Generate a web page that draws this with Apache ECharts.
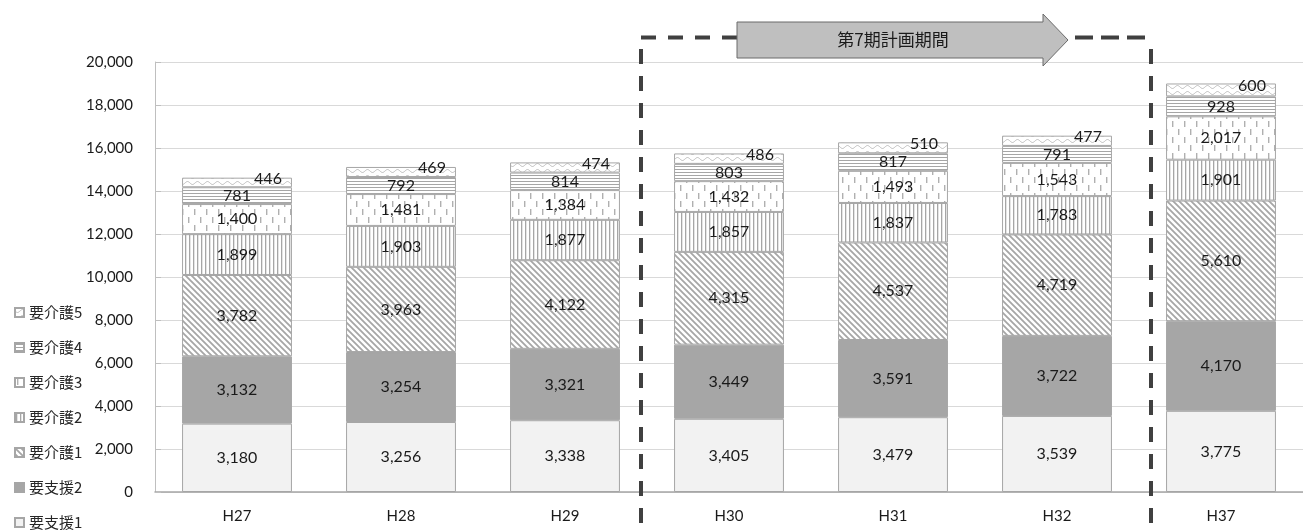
<!DOCTYPE html>
<html><head><meta charset="utf-8">
<script src="https://cdn.jsdelivr.net/npm/echarts@6/dist/echarts.min.js"></script>
<style>html,body{margin:0;padding:0;background:#fff}#c{width:1303px;height:532px}</style>
</head><body><div id="c"></div>
<script>
const categories = ['H27','H28','H29','H30','H31','H32','H37'];
const seriesNames = ['要支援1','要支援2','要介護1','要介護2','要介護3','要介護4','要介護5'];
const shien1 = [3180, 3256, 3338, 3405, 3479, 3539, 3775];
const shien2 = [3132, 3254, 3321, 3449, 3591, 3722, 4170];
const kaigo1 = [3782, 3963, 4122, 4315, 4537, 4719, 5610];
const kaigo2 = [1899, 1903, 1877, 1857, 1837, 1783, 1901];
const kaigo3 = [1400, 1481, 1384, 1432, 1493, 1543, 2017];
const kaigo4 = [781, 792, 814, 803, 817, 791, 928];
const kaigo5 = [446, 469, 474, 486, 510, 477, 600];
const yTicks = [0, 2000, 4000, 6000, 8000, 10000, 12000, 14000, 16000, 18000, 20000];
const periodLabel = '第7期計画期間';

function tile(w, h, draw) {
  const c = document.createElement('canvas'); c.width = w; c.height = h;
  const g = c.getContext('2d'); g.fillStyle = '#fff'; g.fillRect(0, 0, w, h);
  draw(g); return c;
}
const diag = tile(6, 6, g => {
  g.strokeStyle = '#a6a6a6'; g.lineWidth = 1.8;
  g.beginPath(); g.moveTo(-1, -1); g.lineTo(7, 7); g.moveTo(-4, 2); g.lineTo(4, 10); g.moveTo(2, -4); g.lineTo(10, 4); g.stroke();
});
const vert = tile(4, 4, g => { g.fillStyle = '#a6a6a6'; g.fillRect(1, 0, 1.3, 4); });
const dash = tile(12, 16, g => { g.fillStyle = '#b0b0b0'; g.fillRect(2, 1, 1.4, 6); g.fillRect(8, 9, 1.4, 6); });
const horiz = tile(4, 3, g => { g.fillStyle = '#a6a6a6'; g.fillRect(0, 1, 4, 1); });
const wave = tile(10, 6, g => {
  g.strokeStyle = '#bdbdbd'; g.lineWidth = 1;
  g.beginPath(); for (let x = 0; x <= 10; x += 0.5) { const y = 3 + 1.5 * Math.sin(x / 10 * 2 * Math.PI); if (x === 0) g.moveTo(x, y); else g.lineTo(x, y); } g.stroke();
});
const fills = ['#f2f2f2', '#a6a6a6', {image: diag, repeat: 'repeat'}, {image: vert, repeat: 'repeat'},
  {image: dash, repeat: 'repeat'}, {image: horiz, repeat: 'repeat'}, {image: wave, repeat: 'repeat'}];
const values = [shien1, shien2, kaigo1, kaigo2, kaigo3, kaigo4, kaigo5];

const numFont = 'Lato, "Noto Sans CJK JP", sans-serif';
const fmt = v => Number(v).toLocaleString('en-US');

const series = seriesNames.map((name, i) => ({
  name, type: 'bar', stack: 'total', data: values[i], barCategoryGap: '33%',
  itemStyle: {color: fills[i], borderColor: '#a6a6a6', borderWidth: 1},
  label: {
    show: true, position: 'inside', formatter: p => fmt(p.value),
    color: '#1a1a1a', fontFamily: numFont, fontSize: 16,
    offset: i === 6 ? [31, -4] : [0, 0]
  },
  emphasis: {disabled: true}
}));

const chart = echarts.init(document.getElementById('c'));
chart.setOption({
  animation: false,
  grid: {left: 155, right: -9, top: 62, bottom: 40, containLabel: false},
  legend: {
    orient: 'vertical', left: 14, top: 305, height: 400, padding: 0, itemGap: 20,
    itemWidth: 9, itemHeight: 9, icon: 'rect',
    data: seriesNames.slice().reverse(),
    textStyle: {fontFamily: '"Noto Sans CJK JP", sans-serif', fontSize: 15, color: '#262626', lineHeight: 14}
  },
  xAxis: {
    type: 'category', data: categories,
    axisLine: {lineStyle: {color: '#a6a6a6', width: 1.5}}, axisTick: {show: false},
    axisLabel: {margin: 17, color: '#1a1a1a', fontFamily: numFont, fontSize: 15}
  },
  yAxis: {
    type: 'value', min: yTicks[0], max: yTicks[yTicks.length - 1], interval: yTicks[1] - yTicks[0],
    axisLine: {show: true, lineStyle: {color: '#bfbfbf'}},
    axisTick: {show: true, inside: true, length: 6, lineStyle: {color: '#bfbfbf'}},
    splitLine: {lineStyle: {color: '#d9d9d9'}},
    axisLabel: {margin: 22, color: '#1a1a1a', fontFamily: numFont, fontSize: 15, formatter: v => fmt(v)}
  },
  series,
  graphic: [
    {type: 'line', shape: {x1: 641, y1: 49, x2: 641, y2: 532}, style: {stroke: '#404040', lineWidth: 4, lineDash: [15, 12]}, z: 100},
    {type: 'line', shape: {x1: 1151, y1: 49, x2: 1151, y2: 532}, style: {stroke: '#404040', lineWidth: 4, lineDash: [15, 12]}, z: 100},
    {type: 'line', shape: {x1: 641, y1: 37.5, x2: 737, y2: 37.5}, style: {stroke: '#404040', lineWidth: 4, lineDash: [15, 12]}, z: 100},
    {type: 'line', shape: {x1: 1075, y1: 37.5, x2: 1153, y2: 37.5}, style: {stroke: '#404040', lineWidth: 4, lineDash: [18, 8]}, z: 100},
    {type: 'polygon', shape: {points: [[737, 22], [1043, 22], [1043, 14], [1068, 40], [1043, 66], [1043, 58], [737, 58]]},
      style: {fill: '#bfbfbf', stroke: '#6b6b6b', lineWidth: 1}, z: 101},
    {type: 'text', x: 893, y: 40, style: {text: periodLabel, fill: '#1a1a1a', font: '17px "Noto Sans CJK JP"', textAlign: 'center', textVerticalAlign: 'middle'}, z: 102}
  ]
});
</script></body></html>
